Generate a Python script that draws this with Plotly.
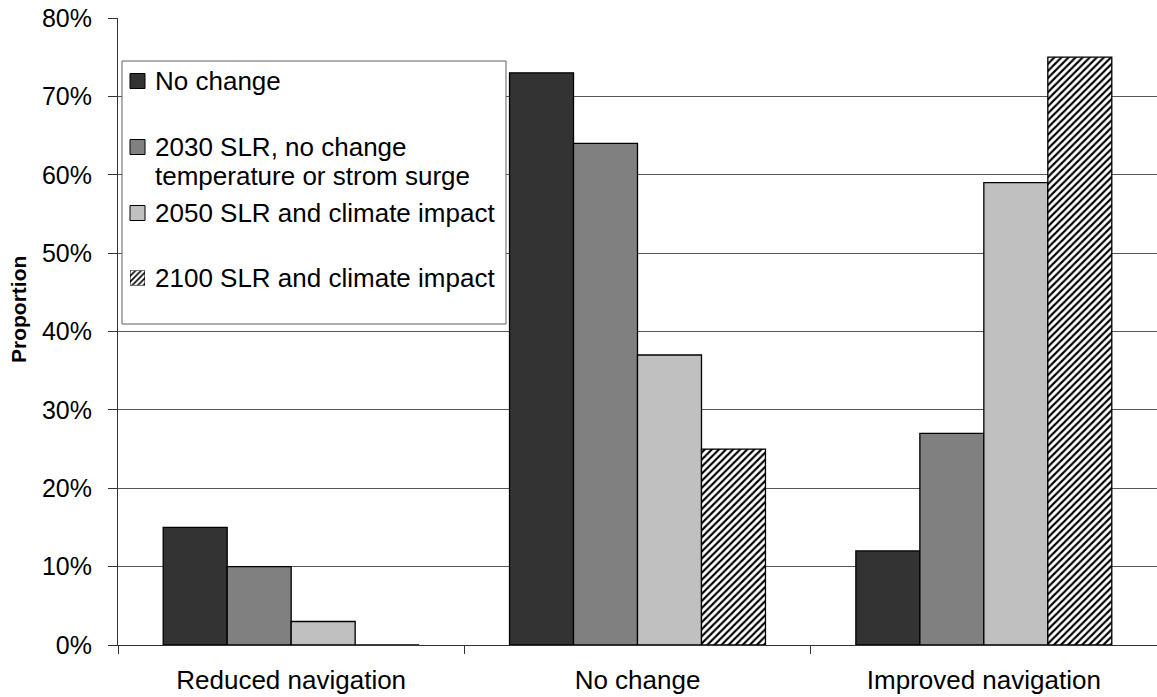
import plotly.graph_objects as go

# Survey responses: expected effect on navigation under each scenario
categories = ["Reduced navigation", "No change", "Improved navigation"]
scenarios = [
    "No change",
    "2030 SLR, no change temperature or strom surge",
    "2050 SLR and climate impact",
    "2100 SLR and climate impact",
]
no_change_pct = [15, 73, 12]
slr_2030_pct = [10, 64, 27]
slr_2050_pct = [3, 37, 59]
slr_2100_pct = [0, 25, 75]
y_ticks = [0, 10, 20, 30, 40, 50, 60, 70, 80]

series = [no_change_pct, slr_2030_pct, slr_2050_pct, slr_2100_pct]
fills = ["#333333", "#808080", "#c0c0c0", "#ffffff"]

FONT = "Liberation Sans, Arial, sans-serif"
Y_MAX = 80

# Figure geometry in pixels (plot area inside the margins)
W, H = 1157, 697
L, R, T, B = 118, 1157, 18, 645
PW, PH = R - L, B - T


def fx(px):
    return (px - L) / PW


def fy(py):
    return (B - py) / PH


# pixel -> axis units, for legend furniture drawn inside the plot area
def ax_x(px):
    return -0.5 + fx(px) * len(categories)


def ax_y(py):
    return fy(py) * Y_MAX


fig = go.Figure()

for name, vals, col in zip(scenarios, series, fills):
    hatched = col == "#ffffff"
    fig.add_trace(go.Bar(
        x=categories, y=vals, name=name,
        marker=dict(
            color=col,
            line=dict(color="#000000", width=1.3),
            pattern=dict(shape="/", fgcolor="#000000", bgcolor="#ffffff",
                         size=5, solidity=0.42, fillmode="replace") if hatched else None,
        ),
        showlegend=False,
    ))

# Legend box (between gridlines and bars so it hides the gridlines behind it)
box_x0, box_x1, box_y0, box_y1 = 122, 506, 61, 324
fig.add_shape(type="rect", xref="x", yref="y", layer="between",
              x0=ax_x(box_x0), x1=ax_x(box_x1), y0=ax_y(box_y1), y1=ax_y(box_y0),
              fillcolor="#ffffff", line=dict(color="#606060", width=1))

sq_x0, sq_x1, sq = 130, 145, 15
item_y = [81, 147, 213, 278]
legend_lines = [
    ["No change"],
    ["2030 SLR, no change", "temperature or strom surge"],
    ["2050 SLR and climate impact"],
    ["2100 SLR and climate impact"],
]

for i, (yc, lines) in enumerate(zip(item_y, legend_lines)):
    if i < 3:
        fig.add_shape(type="rect", xref="x", yref="y", layer="between",
                      x0=ax_x(sq_x0), x1=ax_x(sq_x1),
                      y0=ax_y(yc + sq / 2), y1=ax_y(yc - sq / 2),
                      fillcolor=fills[i], line=dict(color="#000000", width=1))
    for j, line in enumerate(lines):
        fig.add_annotation(xref="paper", yref="paper",
                           x=fx(153), y=fy(yc + j * 29),
                           xanchor="left", yanchor="middle",
                           text=line, showarrow=False,
                           font=dict(family=FONT, size=26, color="#000000"))

# Hatched legend swatch drawn as a tiny bar in its own inset axes
yc4 = item_y[3]
fig.add_trace(go.Bar(
    x=[0], y=[1], width=[1], xaxis="x2", yaxis="y2", showlegend=False,
    hoverinfo="skip", cliponaxis=False,
    marker=dict(color="#ffffff", line=dict(color="#000000", width=1),
                pattern=dict(shape="/", fgcolor="#000000", bgcolor="#ffffff",
                             size=4, solidity=0.4, fillmode="replace")),
))

fig.update_layout(
    width=W, height=H,
    margin=dict(l=L, r=W - R, t=T, b=H - B, pad=0),
    paper_bgcolor="#ffffff", plot_bgcolor="#ffffff",
    barmode="group", bargap=0.261, bargroupgap=0,
    showlegend=False,
    font=dict(family=FONT, color="#000000"),
    xaxis=dict(
        type="category", range=[-0.5, 2.5],
        showline=True, linecolor="#333333", linewidth=1,
        ticks="outside", tickson="boundaries", ticklen=8, tickcolor="#333333",
        showgrid=False, tickfont=dict(size=26, family=FONT, color="#000000"),
        ticklabelstandoff=12,
    ),
    yaxis=dict(
        range=[0, Y_MAX], tickvals=y_ticks, ticktext=[f"{v}%" for v in y_ticks],
        showline=True, linecolor="#333333", linewidth=1,
        ticks="outside", ticklen=9, tickcolor="#333333",
        showgrid=True, gridcolor="#555555", gridwidth=1, zeroline=False,
        tickfont=dict(size=25, family=FONT, color="#000000"),
        ticklabelstandoff=11,
    ),
    xaxis2=dict(domain=[fx(sq_x0), fx(sq_x1)], range=[-0.5, 0.5], visible=False,
                anchor="y2", fixedrange=True),
    yaxis2=dict(domain=[fy(yc4 + sq / 2), fy(yc4 - sq / 2)], range=[0, 1],
                visible=False, anchor="x2", fixedrange=True),
)

# Y-axis title
fig.add_annotation(xref="paper", yref="paper", x=fx(18), y=fy(310),
                   xanchor="center", yanchor="middle", textangle=-90,
                   text="<b>Proportion</b>", showarrow=False,
                   font=dict(family=FONT, size=21, color="#000000"))

fig.write_html("out.html")
